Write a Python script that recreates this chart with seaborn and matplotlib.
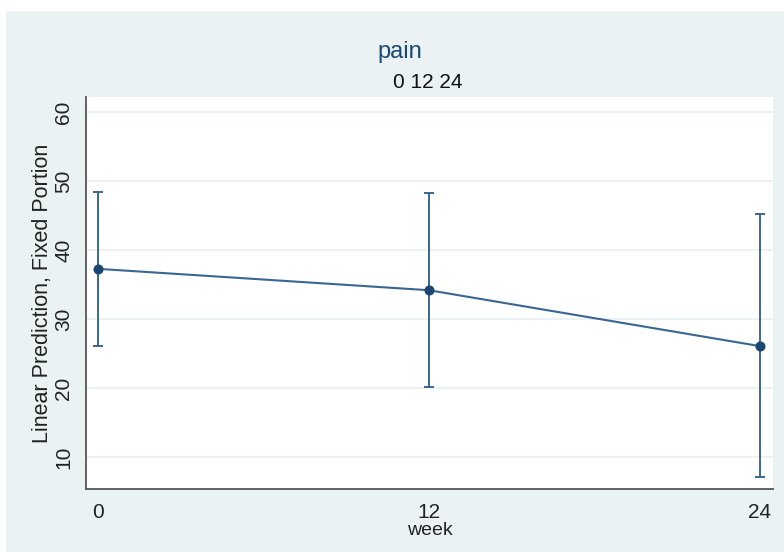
import matplotlib
matplotlib.use("Agg")
import matplotlib.pyplot as plt
import seaborn as sns
import pandas as pd
from matplotlib.patches import Rectangle

# Margins at each visit week
week = [0, 12, 24]
prediction = [37.3, 34.2, 26.1]
ci_low = [26.1, 20.2, 7.2]
ci_high = [48.4, 48.3, 45.2]
y_ticks = [10, 20, 30, 40, 50, 60]
x_ticks = [0, 12, 24]

df = pd.DataFrame({"week": week, "pred": prediction, "lo": ci_low, "hi": ci_high})

sns.set_theme(style="white")
plt.rcParams["font.family"] = ["Liberation Sans", "DejaVu Sans"]

BG = "#eaf2f3"
NAVY = "#1a476f"
LINE = "#3a6790"
TXT = "#222222"

fig = plt.figure(figsize=(7.84, 5.52), dpi=100)
fig.patch.set_facecolor("white")
fig.patches.append(Rectangle((6 / 784, 0), 1, 1 - 11 / 552, transform=fig.transFigure,
                             facecolor=BG, edgecolor="none", zorder=-10))

ax = fig.add_axes([86 / 784, 1 - 489 / 552, (773 - 86) / 784, (489 - 97) / 552])
ax.set_facecolor("white")

# Confidence intervals with small caps
ax.errorbar(df["week"], df["pred"],
            yerr=[df["pred"] - df["lo"], df["hi"] - df["pred"]],
            fmt="none", ecolor=LINE, elinewidth=1.4, capsize=3.5, capthick=1.4, zorder=2)

sns.lineplot(data=df, x="week", y="pred", ax=ax, color=LINE, linewidth=1.5,
             marker="o", markersize=6.5, markerfacecolor=NAVY, markeredgecolor=NAVY,
             zorder=3)

ax.set_xlim(-0.44, 24.47)
ax.set_ylim(5.4, 62.2)
ax.set_yticks(y_ticks)
ax.set_xticks(x_ticks)
ax.set_yticklabels([str(v) for v in y_ticks], rotation=90, va="center", fontsize=15, color=TXT)
ax.set_xticklabels([str(v) for v in x_ticks], fontsize=15, color=TXT)
ax.yaxis.grid(True, color=BG, linewidth=1.5)
ax.xaxis.grid(False)

for side in ["top", "right"]:
    ax.spines[side].set_visible(False)
for side in ["left", "bottom"]:
    ax.spines[side].set_color("#555555")
    ax.spines[side].set_linewidth(1.3)
ax.tick_params(axis="both", direction="out", length=6, width=1.2, color="#555555")
ax.tick_params(axis="y", pad=3)
ax.tick_params(axis="x", pad=4)

ax.set_xlabel("week", fontsize=14, color=TXT, labelpad=0)
ax.set_ylabel("Linear Prediction, Fixed Portion", fontsize=15.5, color=TXT, labelpad=1)

fig.text(400 / 784, 1 - 58 / 552, "pain", ha="center", va="baseline", fontsize=17, color=NAVY)
fig.text(428 / 784, 1 - 88 / 552, "0 12 24", ha="center", va="baseline", fontsize=15, color="#111111")

fig.savefig("out.png", dpi=100, facecolor=fig.get_facecolor())
